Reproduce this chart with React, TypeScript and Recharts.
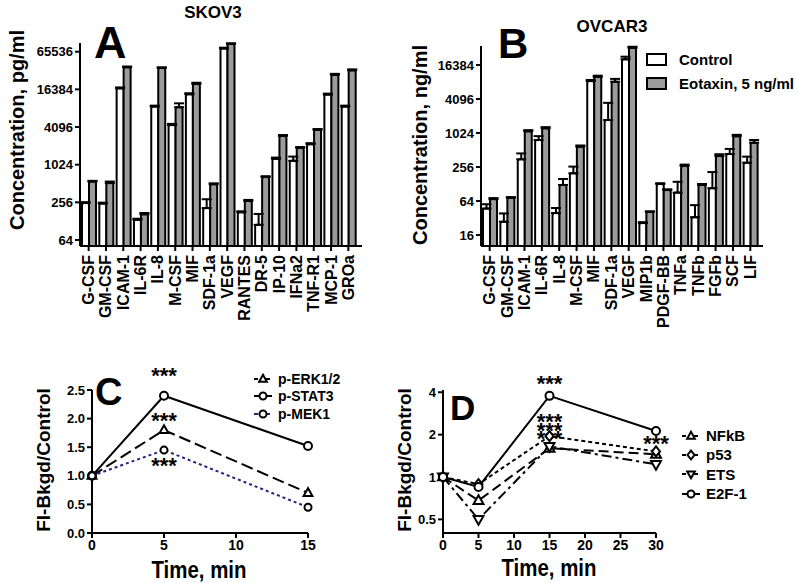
import React from 'react';
import { BarChart, Bar, ErrorBar, LineChart, Line, XAxis, YAxis, Legend, ReferenceDot } from 'recharts';

const FONT = '"Liberation Sans", Arial, Helvetica, sans-serif';
const GRAY = '#9b9b9b';

// Panel A: SKOV3, pg/ml
const cytokinesA = ['G-CSF', 'GM-CSF', 'ICAM-1', 'IL-6R', 'IL-8', 'M-CSF', 'MIF', 'SDF-1a', 'VEGF', 'RANTES', 'DR-5', 'IP-10', 'IFNa2', 'TNF-R1', 'MCP-1', 'GROa'];
const controlA = [250, 245, 17000, 135, 8700, 4400, 13700, 207, 74000, 178, 112, 1270, 1180, 2180, 13500, 8700];
const eotaxinA = [550, 520, 37000, 165, 36000, 8500, 20000, 500, 87000, 270, 650, 2950, 1900, 3700, 28000, 33000];
const controlErrA = [8, 8, 600, 5, 300, 200, 500, 80, 2000, 6, 55, 60, 200, 80, 500, 300];
const eotaxinErrA = [15, 30, 1000, 8, 1000, 1300, 900, 15, 2500, 10, 20, 100, 60, 100, 1000, 1200];
const ticksA = [64, 256, 1024, 4096, 16384, 65536];

// Panel B: OVCAR3, ng/ml
const cytokinesB = ['G-CSF', 'GM-CSF', 'ICAM-1', 'IL-6R', 'IL-8', 'M-CSF', 'MIF', 'SDF-1a', 'VEGF', 'MIP1b', 'PDGF-BB', 'TNFa', 'TNFb', 'FGFb', 'SCF', 'LIF'];
const controlB = [47, 27.5, 350, 770, 39, 198, 8500, 1740, 20700, 26, 128, 90, 33, 108, 435, 305];
const eotaxinB = [69, 73, 1100, 1240, 123, 585, 10100, 8300, 33000, 41, 100, 267, 123, 400, 900, 690];
const controlErrB = [9, 11, 95, 130, 9, 62, 400, 1760, 2300, 1, 4, 50, 21, 100, 100, 85];
const eotaxinErrB = [3, 2, 50, 60, 34, 30, 500, 1000, 1500, 1, 3, 15, 5, 30, 50, 80];
const ticksB = [16, 64, 256, 1024, 4096, 16384];

// Panel C: kinases
const minutesC = [0, 5, 15];
const erkC = [1.0, 1.8, 0.7];
const stat3C = [1.0, 2.4, 1.52];
const mek1C = [1.0, 1.45, 0.45];
const yTicksC = [0, 0.5, 1, 1.5, 2, 2.5];
const xTicksC = [0, 5, 10, 15];

// Panel D: transcription factors
const minutesD = [0, 5, 15, 30];
const nfkbD = [1.0, 0.68, 1.6, 1.45];
const p53D = [1.0, 0.89, 1.95, 1.52];
const etsD = [1.0, 0.5, 1.65, 1.23];
const e2f1D = [1.0, 0.85, 3.77, 2.12];
const yTicksD = [0.5, 1, 2, 4];
const xTicksD = [0, 5, 10, 15, 20, 25, 30];

type Shape = 'circle' | 'triangle' | 'triangleDown' | 'diamond';
interface SeriesDef { key: string; name: string; shape: Shape; dash?: string; color: string; r: number }

const seriesC: SeriesDef[] = [
  { key: 'erk', name: 'p-ERK1/2', shape: 'triangle', dash: '12 5', color: '#000', r: 4 },
  { key: 'stat3', name: 'p-STAT3', shape: 'circle', color: '#000', r: 4 },
  { key: 'mek1', name: 'p-MEK1', shape: 'circle', dash: '3 3', color: '#23237d', r: 3.5 },
];
const seriesD: SeriesDef[] = [
  { key: 'nfkb', name: 'NFkB', shape: 'triangle', dash: '10 5', color: '#000', r: 4.5 },
  { key: 'p53', name: 'p53', shape: 'diamond', dash: '4 3', color: '#000', r: 4 },
  { key: 'ets', name: 'ETS', shape: 'triangleDown', dash: '10 4 3 4', color: '#000', r: 4.5 },
  { key: 'e2f1', name: 'E2F-1', shape: 'circle', color: '#000', r: 4 },
];

const axisStyle = { stroke: '#000', strokeWidth: 2 };
const numTick = { fill: '#000', fontSize: 13, fontWeight: 'bold', fontFamily: FONT };

function marker(shape: Shape, cx: number, cy: number, r: number, key?: string) {
  const common = { fill: '#fff', stroke: '#000', strokeWidth: 2 };
  if (shape === 'circle') return <circle key={key} cx={cx} cy={cy} r={r} {...common} />;
  let pts: number[][];
  if (shape === 'triangle') pts = [[cx, cy - r * 1.2], [cx - r * 1.1, cy + r * 0.75], [cx + r * 1.1, cy + r * 0.75]];
  else if (shape === 'triangleDown') pts = [[cx, cy + r * 1.2], [cx - r * 1.1, cy - r * 0.75], [cx + r * 1.1, cy - r * 0.75]];
  else pts = [[cx, cy - r * 1.25], [cx + r, cy], [cx, cy + r * 1.25], [cx - r, cy]];
  return <polygon key={key} points={pts.map((p) => p.join(',')).join(' ')} {...common} />;
}

const dotFor = (s: SeriesDef) => (props: any) => marker(s.shape, props.cx, props.cy, s.r, `${s.key}-${props.index}`);

function CategoryTick(props: any) {
  const { x, y, payload } = props;
  return (
    <text x={x} y={y} transform={`rotate(-90, ${x}, ${y})`} textAnchor="end" dx={-2} dy={5.5}
      fontFamily={FONT} fontWeight="bold" fontSize={16} fill="#000">
      {payload.value}
    </text>
  );
}

function Stars(props: any) {
  const { viewBox, shift = 0 } = props;
  const cx = viewBox.x + (viewBox.width || 0) / 2;
  const cy = viewBox.y + (viewBox.height || 0) / 2;
  return (
    <text x={cx} y={cy + shift} textAnchor="middle" fontFamily={FONT} fontWeight="bold" fontSize={22} fill="#000">***</text>
  );
}

function LineLegend({ items, rowH, fontSize }: { items: SeriesDef[]; rowH: number; fontSize: number }) {
  return (
    <div style={{ fontFamily: FONT, fontWeight: 'bold', color: '#000' }}>
      {items.map((s) => (
        <div key={s.key} style={{ display: 'flex', alignItems: 'center', height: rowH }}>
          <svg width={20} height={14}>
            <line x1={1} y1={7} x2={19} y2={7} stroke={s.color} strokeWidth={2} strokeDasharray={s.dash ? '4 2' : undefined} />
            {marker(s.shape, 10, 7, Math.min(s.r, 3.5))}
          </svg>
          <span style={{ marginLeft: 5, fontSize, lineHeight: 1 }}>{s.name}</span>
        </div>
      ))}
    </div>
  );
}

function BarLegend() {
  const items = [{ name: 'Control', fill: '#fff' }, { name: 'Eotaxin, 5 ng/ml', fill: GRAY }];
  return (
    <div style={{ fontFamily: FONT, fontWeight: 'bold', color: '#000' }}>
      {items.map((it) => (
        <div key={it.name} style={{ display: 'flex', alignItems: 'center', height: 24 }}>
          <div style={{ width: 17, height: 9, border: '2px solid #000', background: it.fill }} />
          <span style={{ marginLeft: 12, fontSize: 15 }}>{it.name}</span>
        </div>
      ))}
    </div>
  );
}

interface BarsProps {
  cats: string[]; ctrl: number[]; eot: number[]; ctrlErr: number[]; eotErr: number[];
  ticks: number[]; domain: [number, number]; top: number; padRight: number; legend?: boolean;
}

function CytokineBars({ cats, ctrl, eot, ctrlErr, eotErr, ticks, domain, top, padRight, legend }: BarsProps) {
  const data = cats.map((name, i) => ({
    name,
    control: ctrl[i],
    eotaxin: eot[i],
    controlErr: [0, ctrlErr[i]],
    eotaxinErr: [0, eotErr[i]],
  }));
  return (
    <BarChart width={400} height={345} data={data} margin={{ top, right: 38, left: 0, bottom: 0 }} barSize={7} barGap={0}>
      <XAxis dataKey="name" interval={0} height={99} tick={(p: any) => <CategoryTick {...p} />} tickSize={5}
        axisLine={axisStyle} tickLine={axisStyle} padding={{ left: 0, right: padRight }} />
      <YAxis type="number" scale="log" domain={domain} allowDataOverflow ticks={ticks} interval={0} width={80}
        tickSize={5} axisLine={axisStyle} tickLine={axisStyle} tick={numTick} />
      {legend && (
        <Legend layout="vertical" align="center" verticalAlign="middle" content={() => <BarLegend />}
          wrapperStyle={{ left: 245, top: 47, width: 'auto' }} />
      )}
      <Bar dataKey="control" name="Control" fill="#fff" stroke="#000" strokeWidth={2} radius={[2, 2, 0, 0]} isAnimationActive={false}>
        <ErrorBar dataKey="controlErr" width={5} stroke="#000" strokeWidth={2} direction="y" />
      </Bar>
      <Bar dataKey="eotaxin" name="Eotaxin, 5 ng/ml" fill={GRAY} stroke="#000" strokeWidth={2} radius={[2, 2, 0, 0]} isAnimationActive={false}>
        <ErrorBar dataKey="eotaxinErr" width={5} stroke="#000" strokeWidth={2} direction="y" />
      </Bar>
    </BarChart>
  );
}

function KinaseChart() {
  const data = minutesC.map((t, i) => ({ t, erk: erkC[i], stat3: stat3C[i], mek1: mek1C[i] }));
  return (
    <LineChart width={400} height={228} data={data} margin={{ top: 35, right: 92, left: 0, bottom: 0 }}>
      <XAxis dataKey="t" type="number" domain={[0, 15]} ticks={xTicksC} interval={0} height={50} tickSize={5}
        axisLine={axisStyle} tickLine={axisStyle} tick={{ ...numTick, fontSize: 14 }} />
      <YAxis type="number" domain={[0, 2.5]} ticks={yTicksC} interval={0} width={92} tickSize={5}
        axisLine={axisStyle} tickLine={axisStyle} tick={numTick} tickFormatter={(v: number) => v.toFixed(1)} />
      <Legend layout="vertical" align="center" verticalAlign="middle"
        content={() => <LineLegend items={seriesC} rowH={17.5} fontSize={14} />}
        wrapperStyle={{ left: 253, top: 15, width: 'auto' }} />
      {seriesC.map((s) => (
        <Line key={s.key} dataKey={s.key} name={s.name} type="linear" stroke={s.color} strokeWidth={2}
          strokeDasharray={s.dash} dot={dotFor(s)} activeDot={false} isAnimationActive={false} />
      ))}
      <ReferenceDot x={minutesC[1]} y={stat3C[1]} r={0} fill="none" stroke="none" label={<Stars shift={-13} />} />
      <ReferenceDot x={minutesC[1]} y={erkC[1]} r={0} fill="none" stroke="none" label={<Stars shift={-2} />} />
      <ReferenceDot x={minutesC[1]} y={mek1C[1]} r={0} fill="none" stroke="none" label={<Stars shift={23} />} />
    </LineChart>
  );
}

function FactorChart() {
  const data = minutesD.map((t, i) => ({ t, nfkb: nfkbD[i], p53: p53D[i], ets: etsD[i], e2f1: e2f1D[i] }));
  return (
    <LineChart width={398} height={228} data={data} margin={{ top: 35, right: 142, left: 0, bottom: 0 }}>
      <XAxis dataKey="t" type="number" domain={[0, 30]} ticks={xTicksD} interval={0} height={50} tickSize={5}
        axisLine={axisStyle} tickLine={axisStyle} tick={{ ...numTick, fontSize: 14 }} />
      <YAxis type="number" scale="log" domain={[0.4, 4.15]} allowDataOverflow ticks={yTicksD} interval={0} width={43}
        tickSize={5} axisLine={axisStyle} tickLine={axisStyle} tick={numTick} />
      <Legend layout="vertical" align="center" verticalAlign="middle"
        content={() => <LineLegend items={seriesD} rowH={19.3} fontSize={15} />}
        wrapperStyle={{ left: 281, top: 71, width: 'auto' }} />
      {seriesD.map((s) => (
        <Line key={s.key} dataKey={s.key} name={s.name} type="linear" stroke={s.color} strokeWidth={2}
          strokeDasharray={s.dash} dot={dotFor(s)} activeDot={false} isAnimationActive={false} />
      ))}
      <ReferenceDot x={minutesD[2]} y={e2f1D[2]} r={0} fill="none" stroke="none" label={<Stars shift={-5} />} />
      <ReferenceDot x={minutesD[2]} y={p53D[2]} r={0} fill="none" stroke="none" label={<Stars shift={-7} />} />
      <ReferenceDot x={minutesD[2]} y={p53D[2]} r={0} fill="none" stroke="none" label={<Stars shift={2} />} />
      <ReferenceDot x={minutesD[2]} y={p53D[2]} r={0} fill="none" stroke="none" label={<Stars shift={10} />} />
      <ReferenceDot x={minutesD[3]} y={p53D[3]} r={0} fill="none" stroke="none" label={<Stars shift={0} />} />
    </LineChart>
  );
}

function VText({ x, y, size, children }: { x: number; y: number; size: number; children: React.ReactNode }) {
  return (
    <text transform={`translate(${x}, ${y}) rotate(-90)`} textAnchor="middle" dominantBaseline="central"
      fontFamily={FONT} fontWeight="bold" fontSize={size} fill="#000">{children}</text>
  );
}

export default function App() {
  const t = { fontFamily: FONT, fontWeight: 'bold' as const, fill: '#000' };
  return (
    <div style={{ position: 'absolute', left: 0, top: 0, width: 798, height: 583, background: '#fff', overflow: 'hidden' }}>
      <div style={{ position: 'absolute', left: 0, top: 0 }}>
        <CytokineBars cats={cytokinesA} ctrl={controlA} eot={eotaxinA} ctrlErr={controlErrA} eotErr={eotaxinErrA}
          ticks={ticksA} domain={[51.3, 90300]} top={43} padRight={5} />
      </div>
      <div style={{ position: 'absolute', left: 401, top: 0 }}>
        <CytokineBars cats={cytokinesB} ctrl={controlB} eot={eotaxinB} ctrlErr={controlErrB} eotErr={eotaxinErrB}
          ticks={ticksB} domain={[10.2, 35560]} top={46} padRight={4} legend />
      </div>
      <div style={{ position: 'absolute', left: 0, top: 355 }}>
        <KinaseChart />
      </div>
      <div style={{ position: 'absolute', left: 400, top: 355 }}>
        <FactorChart />
      </div>
      <svg width={798} height={583} style={{ position: 'absolute', left: 0, top: 0, pointerEvents: 'none' }}>
        <text x={213} y={18} textAnchor="middle" fontSize={17} {...t}>SKOV3</text>
        <text x={612} y={32} textAnchor="middle" fontSize={17} {...t}>OVCAR3</text>
        <text x={94} y={58} fontSize={45} {...t}>A</text>
        <text x={498} y={58} fontSize={42} {...t}>B</text>
        <text x={95} y={405} fontSize={38} {...t}>C</text>
        <text x={450} y={420} fontSize={35} {...t}>D</text>
        <VText x={17} y={130} size={20}>Concentration, pg/ml</VText>
        <VText x={420} y={145} size={20}>Concentration, ng/ml</VText>
        <VText x={43} y={460} size={19}>FI-Bkgd/Control</VText>
        <VText x={404} y={460} size={19}>FI-Bkgd/Control</VText>
        <text x={199} y={578} textAnchor="middle" fontSize={24} textLength={95} lengthAdjust="spacingAndGlyphs" {...t}>Time, min</text>
        <text x={549} y={576} textAnchor="middle" fontSize={24} textLength={95} lengthAdjust="spacingAndGlyphs" {...t}>Time, min</text>
      </svg>
    </div>
  );
}
